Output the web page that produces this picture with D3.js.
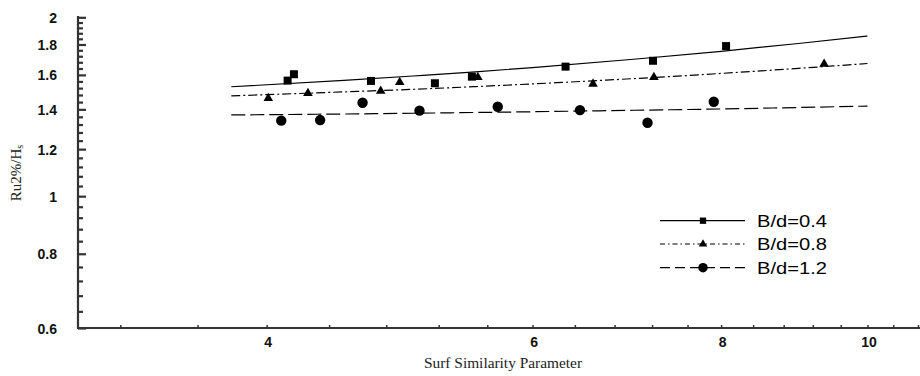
<!DOCTYPE html>
<html>
<head>
<meta charset="utf-8">
<script src="https://cdn.jsdelivr.net/npm/d3@7"></script>
<style>
  html, body { margin: 0; padding: 0; background: #fff; }
  svg { display: block; }
</style>
</head>
<body>
<svg id="chart" width="920" height="376"></svg>
<script>
// ---- data ----
const seriesNames = ["B/d=0.4", "B/d=0.8", "B/d=1.2"];

const xSq  = [4.13, 4.17, 4.69, 5.17, 5.47, 6.31, 7.21, 8.06];
const ySq  = [1.565, 1.604, 1.563, 1.549, 1.589, 1.652, 1.690, 1.789];

const xTri = [4.01, 4.26, 4.76, 4.90, 5.52, 6.58, 7.22, 9.36];
const yTri = [1.461, 1.490, 1.503, 1.555, 1.585, 1.545, 1.585, 1.669];

const xCir = [4.09, 4.34, 4.63, 5.05, 5.69, 6.45, 7.15, 7.91];
const yCir = [1.340, 1.343, 1.436, 1.393, 1.414, 1.396, 1.329, 1.442];

// trend lines, read at several x positions
const xFit     = [3.79, 4.5, 5, 5.5, 6, 7, 8, 9, 10];
const yFitSq   = [1.528, 1.566, 1.593, 1.619, 1.646, 1.700, 1.753, 1.807, 1.860];
const yFitTri  = [1.475, 1.498, 1.513, 1.529, 1.545, 1.577, 1.609, 1.641, 1.672];
const yFitCir  = [1.370, 1.375, 1.379, 1.383, 1.387, 1.395, 1.402, 1.410, 1.418];

const xTickLabels = [4, 6, 8, 10];
const xMinorTicks = [3.2, 3.6, 4.0, 4.4, 4.8, 5.2, 5.6, 6.0, 6.4, 6.8, 7.2, 7.6, 8.0, 8.4, 8.8, 9.2, 9.6, 10.0, 10.4, 10.8];
const yTickLabels = [0.6, 0.8, 1, 1.2, 1.4, 1.6, 1.8, 2];
const yMinorTicks = [0.64, 0.68, 0.72, 0.76, 0.84, 0.88, 0.92, 0.96, 1.04, 1.08, 1.12, 1.16,
                     1.24, 1.28, 1.32, 1.36, 1.44, 1.48, 1.52, 1.56, 1.64, 1.68, 1.72, 1.76,
                     1.84, 1.88, 1.92, 1.96];

// ---- layout ----
const svg = d3.select("#chart");
const x = d3.scaleLog().domain([3, 11]).range([78, 930]);
const y = d3.scaleLog().domain([0.6, 2]).range([328, 17.3]);

const axisColor = "#333";
const fmt = d => String(d);

// y axis: minor ticks
const gyMinor = svg.append("g").attr("transform", "translate(78,0)")
  .call(d3.axisRight(y).tickValues(yMinorTicks).tickSize(5).tickFormat(""));
// y axis: major ticks + labels
const gy = svg.append("g").attr("transform", "translate(78,0)")
  .call(d3.axisLeft(y).tickValues(yTickLabels).tickSize(-8).tickPadding(21).tickFormat(fmt));
[gyMinor, gy].forEach(g => {
  g.select(".domain").remove();
  g.selectAll(".tick line").attr("stroke", axisColor).attr("stroke-width", 2.2);
});
gy.selectAll(".tick text")
  .attr("font-family", "Liberation Sans, Arial, sans-serif")
  .attr("font-weight", "bold").attr("font-size", 14).attr("fill", "#111")
  .attr("dy", "0.36em");
svg.append("line").attr("x1", 78).attr("x2", 78).attr("y1", 16).attr("y2", 329)
  .attr("stroke", axisColor).attr("stroke-width", 2.2);

// x axis
const gx = svg.append("g").attr("transform", "translate(0,328)")
  .call(d3.axisBottom(x).tickValues(xMinorTicks).tickSize(-3).tickPadding(9)
        .tickFormat(d => xTickLabels.includes(d) ? fmt(d) : ""));
gx.select(".domain").remove();
gx.selectAll(".tick line").attr("stroke", axisColor).attr("stroke-width", 1.5);
gx.selectAll(".tick text")
  .attr("font-family", "Liberation Sans, Arial, sans-serif")
  .attr("font-weight", "bold").attr("font-size", 14).attr("fill", "#111")
  .attr("dx", 1);
svg.append("line").attr("x1", 77).attr("x2", 920).attr("y1", 328).attr("y2", 328)
  .attr("stroke", axisColor).attr("stroke-width", 2);

// axis titles
svg.append("text")
  .attr("x", 424).attr("y", 368)
  .attr("font-family", "Liberation Serif, Times New Roman, serif")
  .attr("font-size", 14)
  .attr("textLength", 158)
  .attr("lengthAdjust", "spacingAndGlyphs")
  .attr("fill", "#222")
  .text("Surf  Similarity Parameter");

const yt = svg.append("text")
  .attr("transform", "translate(21,173) rotate(-90)")
  .attr("text-anchor", "middle")
  .attr("font-family", "Liberation Serif, Times New Roman, serif")
  .attr("font-size", 15)
  .attr("fill", "#222");
yt.append("tspan").text("Ru2%/H");
yt.append("tspan").attr("font-size", 10).attr("dy", 2).text("s");

// trend lines
const styles = [
  { dash: null,      fit: yFitSq },
  { dash: "9,3,2,3", fit: yFitTri },
  { dash: "14,5",    fit: yFitCir }
];
const lineGen = d3.line().x(d => x(d[0])).y(d => y(d[1])).curve(d3.curveMonotoneX);
styles.forEach(s => {
  svg.append("path")
    .datum(xFit.map((v, i) => [v, s.fit[i]]))
    .attr("d", lineGen)
    .attr("fill", "none")
    .attr("stroke", "#000")
    .attr("stroke-width", 1.2)
    .attr("stroke-dasharray", s.dash);
});

// markers
const symSquare = d3.symbol().type(d3.symbolSquare).size(64);
const symTri = d3.symbol().type(d3.symbolTriangle).size(40);
const symCir = d3.symbol().type(d3.symbolCircle).size(85);

svg.append("g").selectAll("path").data(xSq.map((v, i) => [v, ySq[i]])).join("path")
  .attr("d", symSquare).attr("transform", d => `translate(${x(d[0])},${y(d[1])})`).attr("fill", "#000");
svg.append("g").selectAll("path").data(xTri.map((v, i) => [v, yTri[i]])).join("path")
  .attr("d", symTri).attr("transform", d => `translate(${x(d[0])},${y(d[1])})`).attr("fill", "#000");
svg.append("g").selectAll("path").data(xCir.map((v, i) => [v, yCir[i]])).join("path")
  .attr("d", symCir).attr("transform", d => `translate(${x(d[0])},${y(d[1])})`).attr("fill", "#000");

// legend
const legSyms = [d3.symbol().type(d3.symbolSquare).size(40),
                 d3.symbol().type(d3.symbolTriangle).size(30),
                 d3.symbol().type(d3.symbolCircle).size(70)];
const legDash = [null, "5,3,1.5,3", "10,5"];
const legY = [220.7, 244, 267.7];
seriesNames.forEach((name, i) => {
  const g = svg.append("g");
  g.append("line").attr("x1", 660).attr("x2", 745).attr("y1", legY[i]).attr("y2", legY[i])
    .attr("stroke", "#000").attr("stroke-width", 1.2).attr("stroke-dasharray", legDash[i]);
  g.append("path").attr("d", legSyms[i]())
    .attr("transform", `translate(703,${legY[i]})`).attr("fill", "#000");
  g.append("text").attr("x", 757).attr("y", legY[i] + 6)
    .attr("font-family", "Liberation Sans, Arial, sans-serif")
    .attr("font-size", 17).attr("fill", "#000")
    .attr("textLength", 70).attr("lengthAdjust", "spacingAndGlyphs")
    .text(name);
});
</script>
</body>
</html>
